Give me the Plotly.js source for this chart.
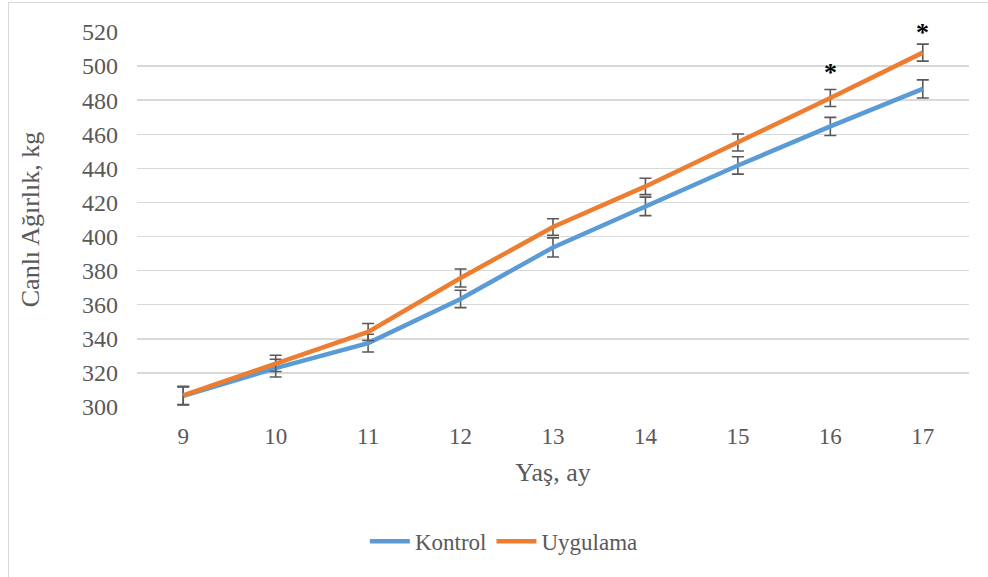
<!DOCTYPE html>
<html>
<head>
<meta charset="utf-8">
<script src="https://cdn.plot.ly/plotly-3.0.1.min.js"></script>
<style>
html,body{margin:0;padding:0;background:#fff;}
#wrap{position:relative;width:988px;height:577px;}
#chart{width:988px;height:577px;}
#frame{position:absolute;left:8px;top:2px;width:1200px;height:800px;border-left:1.5px solid #d9d9d9;border-top:1.5px solid #d9d9d9;pointer-events:none;}
</style>
</head>
<body>
<div id="wrap"><div id="chart"></div><div id="frame"></div></div>
<script>
const months = [9, 10, 11, 12, 13, 14, 15, 16, 17];
const kontrol = [306.5, 322.8, 337.5, 363.4, 393.6, 417.7, 441.7, 464.6, 486.6];
const kontrolErr = [5.3, 5.2, 5.2, 5.1, 5.6, 5.4, 5.1, 5.3, 5.3];
const uygulama = [306.8, 325.6, 344.0, 375.7, 405.6, 429.4, 455.2, 481.3, 507.9];
const uygulamaErr = [5.3, 4.8, 5.0, 5.3, 4.8, 4.8, 5.0, 5.0, 5.0];
const starMonths = [16, 17];
const starY = [496, 519.5];

const serif = 'Liberation Serif, Times New Roman, serif';
const errStyle = {type: 'data', visible: true, color: '#595959', thickness: 1.6, width: 6};

const traces = [
  {x: months, y: kontrol, name: 'Kontrol', type: 'scatter', mode: 'lines',
   line: {color: '#5b9bd5', width: 4.5},
   error_y: Object.assign({array: kontrolErr}, errStyle)},
  {x: months, y: uygulama, name: 'Uygulama', type: 'scatter', mode: 'lines',
   line: {color: '#ed7d31', width: 4.5},
   error_y: Object.assign({array: uygulamaErr}, errStyle)}
];

const annotations = starMonths.map((m, i) => ({
  x: m, y: starY[i], xref: 'x', yref: 'y', text: '<b>*</b>', showarrow: false,
  font: {family: serif, size: 26, color: '#000'},
  yanchor: 'middle'
}));

const layout = {
  width: 988, height: 577,
  margin: {l: 137, r: 19, t: 32, b: 170},
  paper_bgcolor: '#fff', plot_bgcolor: '#fff',
  font: {family: serif, color: '#595959'},
  showlegend: true,
  legend: {orientation: 'h', xref: 'container', yref: 'container',
           x: 0.51, xanchor: 'center', y: 0.062, yanchor: 'middle',
           font: {family: serif, size: 23, color: '#595959'}, itemwidth: 40, traceorder: 'normal'},
  xaxis: {
    range: [8.5, 17.5], tickvals: months, ticktext: months.map(String),
    showgrid: false, zeroline: false, showline: false, ticks: '',
    tickfont: {family: serif, size: 23, color: '#595959'}, ticklabelstandoff: 13,
    title: {text: 'Yaş, ay', font: {family: serif, size: 26, color: '#595959'}, standoff: 14}
  },
  yaxis: {
    range: [300, 520], dtick: 20, tick0: 300,
    showgrid: true, gridcolor: '#d9d9d9', gridwidth: 1.5,
    zeroline: false, showline: false, ticks: '',
    tickfont: {family: serif, size: 24, color: '#595959'}, ticklabelstandoff: 18,
    title: {text: 'Canlı Ağırlık, kg', font: {family: serif, size: 26, color: '#595959'}, standoff: 34}
  },
  annotations: annotations
};

Plotly.newPlot('chart', traces, layout, {displayModeBar: false, staticPlot: true});
</script>
</body>
</html>
